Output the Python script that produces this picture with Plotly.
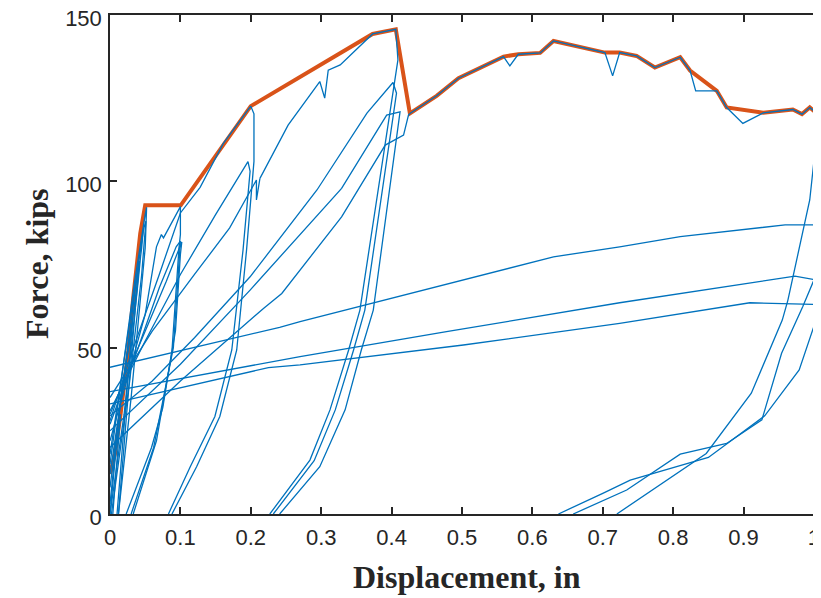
import plotly.graph_objects as go

# ---------------- data ----------------
# backbone / envelope curve (orange)
env_x = [0, 0.007, 0.015, 0.026, 0.033, 0.043, 0.05, 0.1004, 0.1999, 0.373, 0.406,
         0.426, 0.464, 0.495, 0.559, 0.58, 0.611, 0.63, 0.703, 0.724, 0.748, 0.774,
         0.81, 0.824, 0.862, 0.876, 0.928, 0.97, 0.983, 0.994, 1.007, 1.007, 1.009, 1.013]
env_y = [12, 18, 30, 49, 65, 84.4, 92.8, 92.8, 122.6, 144.3, 145.7,
         120.4, 125.7, 131, 137.5, 138.2, 138.6, 142.2, 138.7, 138.7, 137.7, 134.2,
         137.3, 133.3, 127.2, 122.2, 120.6, 121.6, 120.2, 122.2, 119.9, 89.4, 67.3, 52]

# small cycles (up to ~0.05 in)
small_x = [0, 0.008, 0.015, 0.004, None,
           0, 0.015, 0.026, 0.032, 0.01, None,
           0.0, 0.022, 0.036, 0.042, 0.036, 0.012, None,
           0.0, 0.03, 0.045, 0.047, 0.04, 0.02, 0.0, None,
           0.0, 0.035, 0.05, 0.052, 0.05, 0.043, 0.03, 0.012, None,
           0.0, 0.04, 0.048, 0.051, 0.045, 0.028, 0.002]
small_y = [0, 18, 30, 0, None,
           3, 35, 50, 58, 0, None,
           8, 45, 68, 76, 62, 0, None,
           12, 55, 80, 85, 70, 30, 0, None,
           15, 70, 90, 92.2, 80, 64, 35, 0, None,
           18, 75, 86, 88, 72, 40, 0]

# cycles to ~0.1 in
c01_x = [0, 0.03, 0.05, 0.066, 0.073, 0.076, 0.1, 0.1, 0.098, 0.088, 0.075, 0.059, 0.023, None,
         0, 0.04, 0.07, 0.094, 0.1, 0.096, 0.09, 0.062, 0.03, None,
         0, 0.05, 0.08, 0.102, 0.1, 0.093, 0.066, 0.033]
c01_y = [22, 45, 60, 80.3, 84, 83, 92.4, 84, 80, 49, 32, 20, 0, None,
         27, 50, 68, 80.3, 82, 70, 50, 20, 0, None,
         30, 55, 70, 81.8, 78, 55, 22, 0]

# cycles to ~0.2 in
c02_x = [0, 0.03, 0.07, 0.1, 0.128, 0.161, 0.2, 0.2045, 0.2045, 0.194, 0.18, 0.156, 0.123, 0.088, None,
         0, 0.05, 0.1, 0.15, 0.196, 0.199, 0.189, 0.173, 0.149, 0.114, 0.083, None,
         0.0, 0.06, 0.12, 0.17, 0.208, 0.208, 0.213]
c02_y = [28, 48, 72, 90.5, 98.2, 111.4, 122.6, 120.3, 106, 79.4, 49.3, 29.3, 14.2, 0, None,
         31, 52, 72, 90, 105.9, 103, 79.4, 49.3, 29.3, 14.2, 0, None,
         35, 55, 72, 86, 100.4, 94.4, 100.9]

# cycles to ~0.4 in
c04_x = [0.213, 0.253, 0.298, 0.305, 0.31, 0.327, 0.373, 0.406, 0.409, 0.355, 0.339, 0.3125, 0.284, 0.227, None,
         0, 0.06, 0.12, 0.199, 0.294, 0.365, 0.402, 0.407, 0.362, 0.346, 0.32, 0.29, 0.232, None,
         0, 0.1, 0.199, 0.329, 0.393, 0.412, 0.374, 0.357, 0.334, 0.298, 0.241, None,
         0, 0.1, 0.218, 0.244, 0.329, 0.391, 0.417, 0.424, 0.426]
c04_y = [100.9, 116.9, 130, 125, 133.4, 135, 144.3, 145.7, 136.5, 61.3, 49.3, 31.3, 16.2, 0, None,
         29.5, 40, 53, 71.3, 97.4, 120.5, 129.7, 126.5, 61.3, 49.3, 31.3, 16, 0, None,
         25, 45, 67.3, 97.9, 119.9, 120.9, 61.3, 49.3, 31.3, 14.2, 0, None,
         20, 40, 61.8, 66.3, 89.3, 110.9, 113.9, 119.9, 120.4]

# cycles to ~1.0 in
c10_x = [0.426, 0.464, 0.495, 0.559, 0.568, 0.58, 0.611, 0.63, 0.703, 0.714, 0.724, 0.748, 0.774,
         0.81, 0.824, 0.832, 0.862, 0.876, 0.899, 0.928, 0.97, 0.983, 0.994, 1.007,
         0.994, 0.963, 0.955, 0.911, 0.847, 0.72, None,
         0, 0.241, 0.27, 0.63, 0.724, 0.81, 0.959, 1.001, 1.03, 1.01, 0.984, 0.954, 0.926,
         0.876, 0.81, 0.734, 0.658, None,
         0, 0.241, 0.27, 0.478, 0.724, 0.973, 1.004, 1.012, 0.979, 0.93, 0.85, 0.739, 0.70, 0.637, None,
         0, 0.199, 0.225, 0.27, 0.502, 0.724, 0.909, 0.999, 1.01, 1.03]
c10_y = [120.4, 125.7, 131, 137.5, 134.7, 138.2, 138.6, 142.2, 138.7, 131.7, 138.7, 137.7, 134.2,
         137.3, 133.3, 127.2, 127.2, 122.2, 117.4, 120.6, 121.6, 120.2, 122.2, 119.9,
         94.4, 64.3, 58.3, 36.3, 18.2, 0, None,
         44.1, 56.1, 57.8, 77.3, 80.3, 83.4, 86.9, 86.9, 88, 75.4, 62.3, 48.3, 28.3,
         21.2, 18, 7.2, 0, None,
         36.8, 46.3, 47.3, 54.8, 63.5, 71.5, 70.3, 64, 43.3, 29.5, 17, 10.2, 6.2, 0, None,
         33.1, 42.8, 44, 44.8, 50.8, 57.3, 63.5, 63, 59.8, 50]

x_ticks = [0, 0.1, 0.2, 0.3, 0.4, 0.5, 0.6, 0.7, 0.8, 0.9, 1.0]
x_tick_text = ["0", "0.1", "0.2", "0.3", "0.4", "0.5", "0.6", "0.7", "0.8", "0.9", "1"]
y_ticks = [0, 50, 100, 150]
y_tick_text = ["0", "50", "100", "150"]
x_title = "Displacement, in"
y_title = "Force, kips"

BLUE = "#0072BD"
ORANGE = "#D95319"
AX = "#262626"

fig = go.Figure()
fig.add_trace(go.Scatter(x=env_x, y=env_y, mode="lines",
                         line=dict(color=ORANGE, width=4), hoverinfo="skip"))
for xs, ys in [(small_x, small_y), (c01_x, c01_y), (c02_x, c02_y), (c04_x, c04_y), (c10_x, c10_y)]:
    fig.add_trace(go.Scatter(x=xs, y=ys, mode="lines", connectgaps=False,
                             line=dict(color=BLUE, width=1.3), hoverinfo="skip"))
# invisible trace so the mirrored top axis is drawn
fig.add_trace(go.Scatter(x=[0], y=[0], xaxis="x2", mode="markers",
                         marker=dict(opacity=0), hoverinfo="skip"))

tick_font = dict(family="Liberation Sans, Arial, sans-serif", size=22, color=AX)
title_font = dict(family="Liberation Serif, Times New Roman, serif", size=32, color=AX, weight="bold")

common = dict(ticks="inside", ticklen=7, tickwidth=1.5, tickcolor=AX,
              showline=True, linecolor=AX, linewidth=1.5, showgrid=False,
              zeroline=False, automargin=False)

# the page body adds an 8 px offset, so the figure is 8 px smaller on each side
fig.update_layout(
    width=813, height=590,
    margin=dict(l=102, r=0, t=7, b=84),
    paper_bgcolor="white", plot_bgcolor="white",
    showlegend=False,
    xaxis=dict(range=[0, 1.01], tickvals=x_ticks, ticktext=x_tick_text,
               tickfont=tick_font, ticklabelstandoff=3, ticklabeloverflow="allow", **common),
    xaxis2=dict(range=[0, 1.01], tickvals=x_ticks, overlaying="x", side="top", anchor="y",
                showticklabels=False, **common),
    yaxis=dict(range=[0, 150], tickvals=y_ticks, ticktext=y_tick_text,
               tickfont=tick_font, ticklabelstandoff=2, ticklabelshift=3,
               ticklabeloverflow="allow", **common),
    annotations=[
        dict(text=x_title, xref="paper", yref="paper", x=0.502, y=-0.126,
             xanchor="center", yanchor="middle", showarrow=False, font=title_font),
        dict(text=y_title, xref="paper", yref="paper", x=-0.1027, y=0.503,
             xanchor="center", yanchor="middle", textangle=-90, showarrow=False, font=title_font),
    ],
)

fig.write_html("out.html")
